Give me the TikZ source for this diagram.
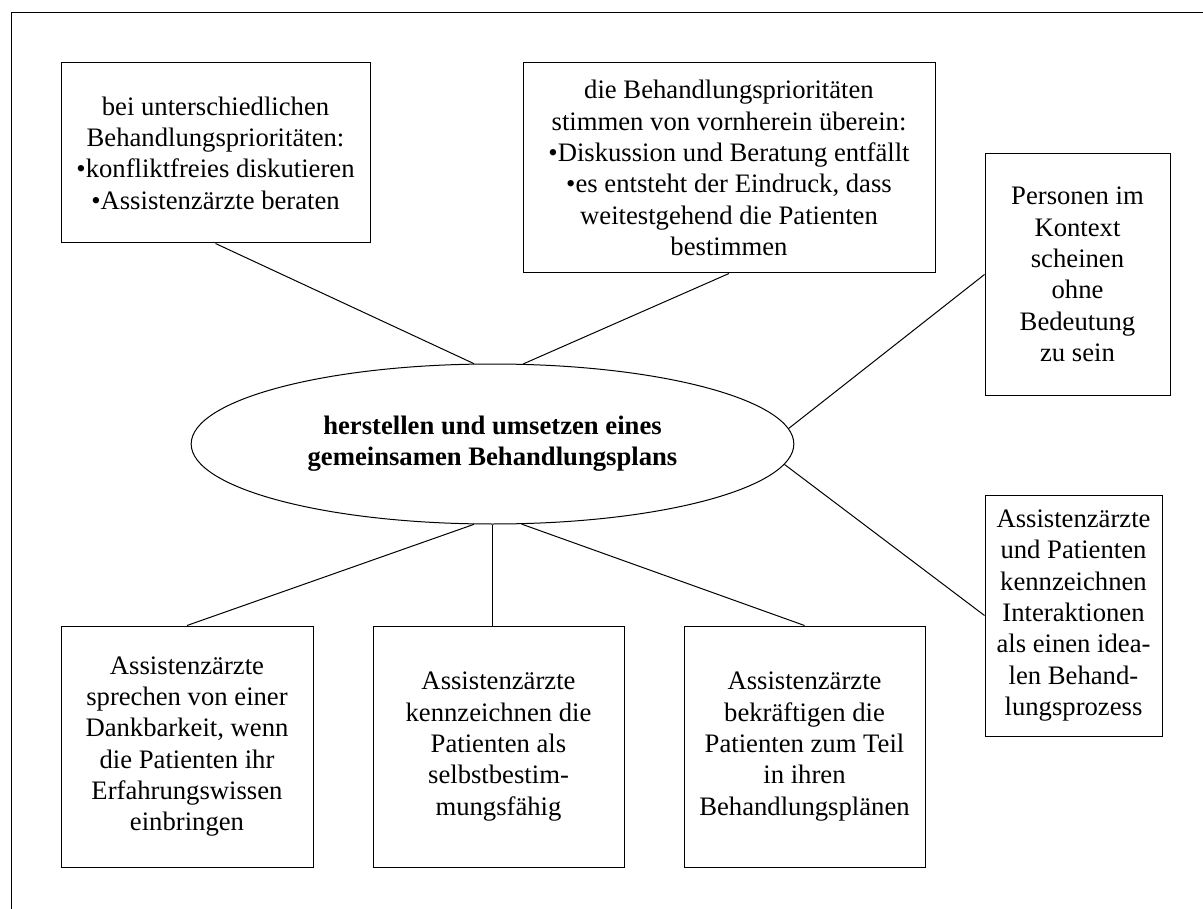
\documentclass[tikz,border=0pt]{standalone}
\usepackage{fontspec}
\setmainfont{Liberation Serif}
\usetikzlibrary{shapes.geometric,calc,fit}
\begin{document}
\begin{tikzpicture}[x=0.75pt,y=-0.75pt, line width=0.75pt,
  box/.style={draw, rectangle, inner sep=0pt},
  txt/.style={align=center, inner sep=0pt, font=\fontsize{20}{23.5}\selectfont},
  link/.style={line width=0.75pt}
]
\useasboundingbox (0,0) rectangle (1203,909);
\draw (11,909) -- (11,13) -- (1203,13);

% boxes
\node[box, fit={(61,63) (370,243)}] (b1) {};
\node[box, fit={(523,63) (935,273)}] (b2) {};
\node[box, fit={(985,154) (1170,395)}] (b3) {};
\node[box, fit={(985,495) (1162,736)}] (b4) {};
\node[box, fit={(61,626) (313,867)}] (b5) {};
\node[box, fit={(373,626) (624,867)}] (b6) {};
\node[box, fit={(684,626) (925,867)}] (b7) {};

% ellipse
\node[draw, ellipse, minimum width=452pt, minimum height=120pt, inner sep=0pt] (e) at (492.5,444) {};

% texts
\node[txt] (t1) at (b1.center) {bei unterschiedlichen\\Behandlungsprioritäten:\\•konfliktfreies diskutieren\\•Assistenzärzte beraten};
\node[txt] (t2) at (b2.center) {die Behandlungsprioritäten\\stimmen von vornherein überein:\\•Diskussion und Beratung entfällt\\•es entsteht der Eindruck, dass\\weitestgehend die Patienten\\bestimmen};
\node[txt] (t3) at (b3.center) {Personen im\\Kontext\\scheinen\\ohne\\Bedeutung\\zu sein};
\node[txt] (t4) at (b4.center) {Assistenzärzte\\und Patienten\\kennzeichnen\\Interaktionen\\als einen idea-\\len Behand-\\lungsprozess};
\node[txt] (t5) at (b5.center) {Assistenzärzte\\sprechen von einer\\Dankbarkeit, wenn\\die Patienten ihr\\Erfahrungswissen\\einbringen};
\node[txt] (t6) at (b6.center) {Assistenzärzte\\kennzeichnen die\\Patienten als\\selbstbestim-\\mungsfähig};
\node[txt] (t7) at (b7.center) {Assistenzärzte\\bekräftigen die\\Patienten zum Teil\\in ihren\\Behandlungsplänen};
\node[txt, font=\fontsize{20}{23.5}\selectfont\bfseries] (te) at (e.center) {herstellen und umsetzen eines\\gemeinsamen Behandlungsplans};

\coordinate (p6) at (e.south |- b6.north);

% connectors
\draw[link] (b1.south) -- (e.103.7);
\draw[link] (b2.south) -- (e.69.7);
\draw[link] (b3.west) -- (e.3.9);
\draw[link] (b4.west) -- (e.-4.5);
\draw[link] (b5.north) -- (e.257);
\draw[link] (p6) -- (e.south);
\draw[link] (b7.north) -- (e.290.9);
\end{tikzpicture}
\end{document}
